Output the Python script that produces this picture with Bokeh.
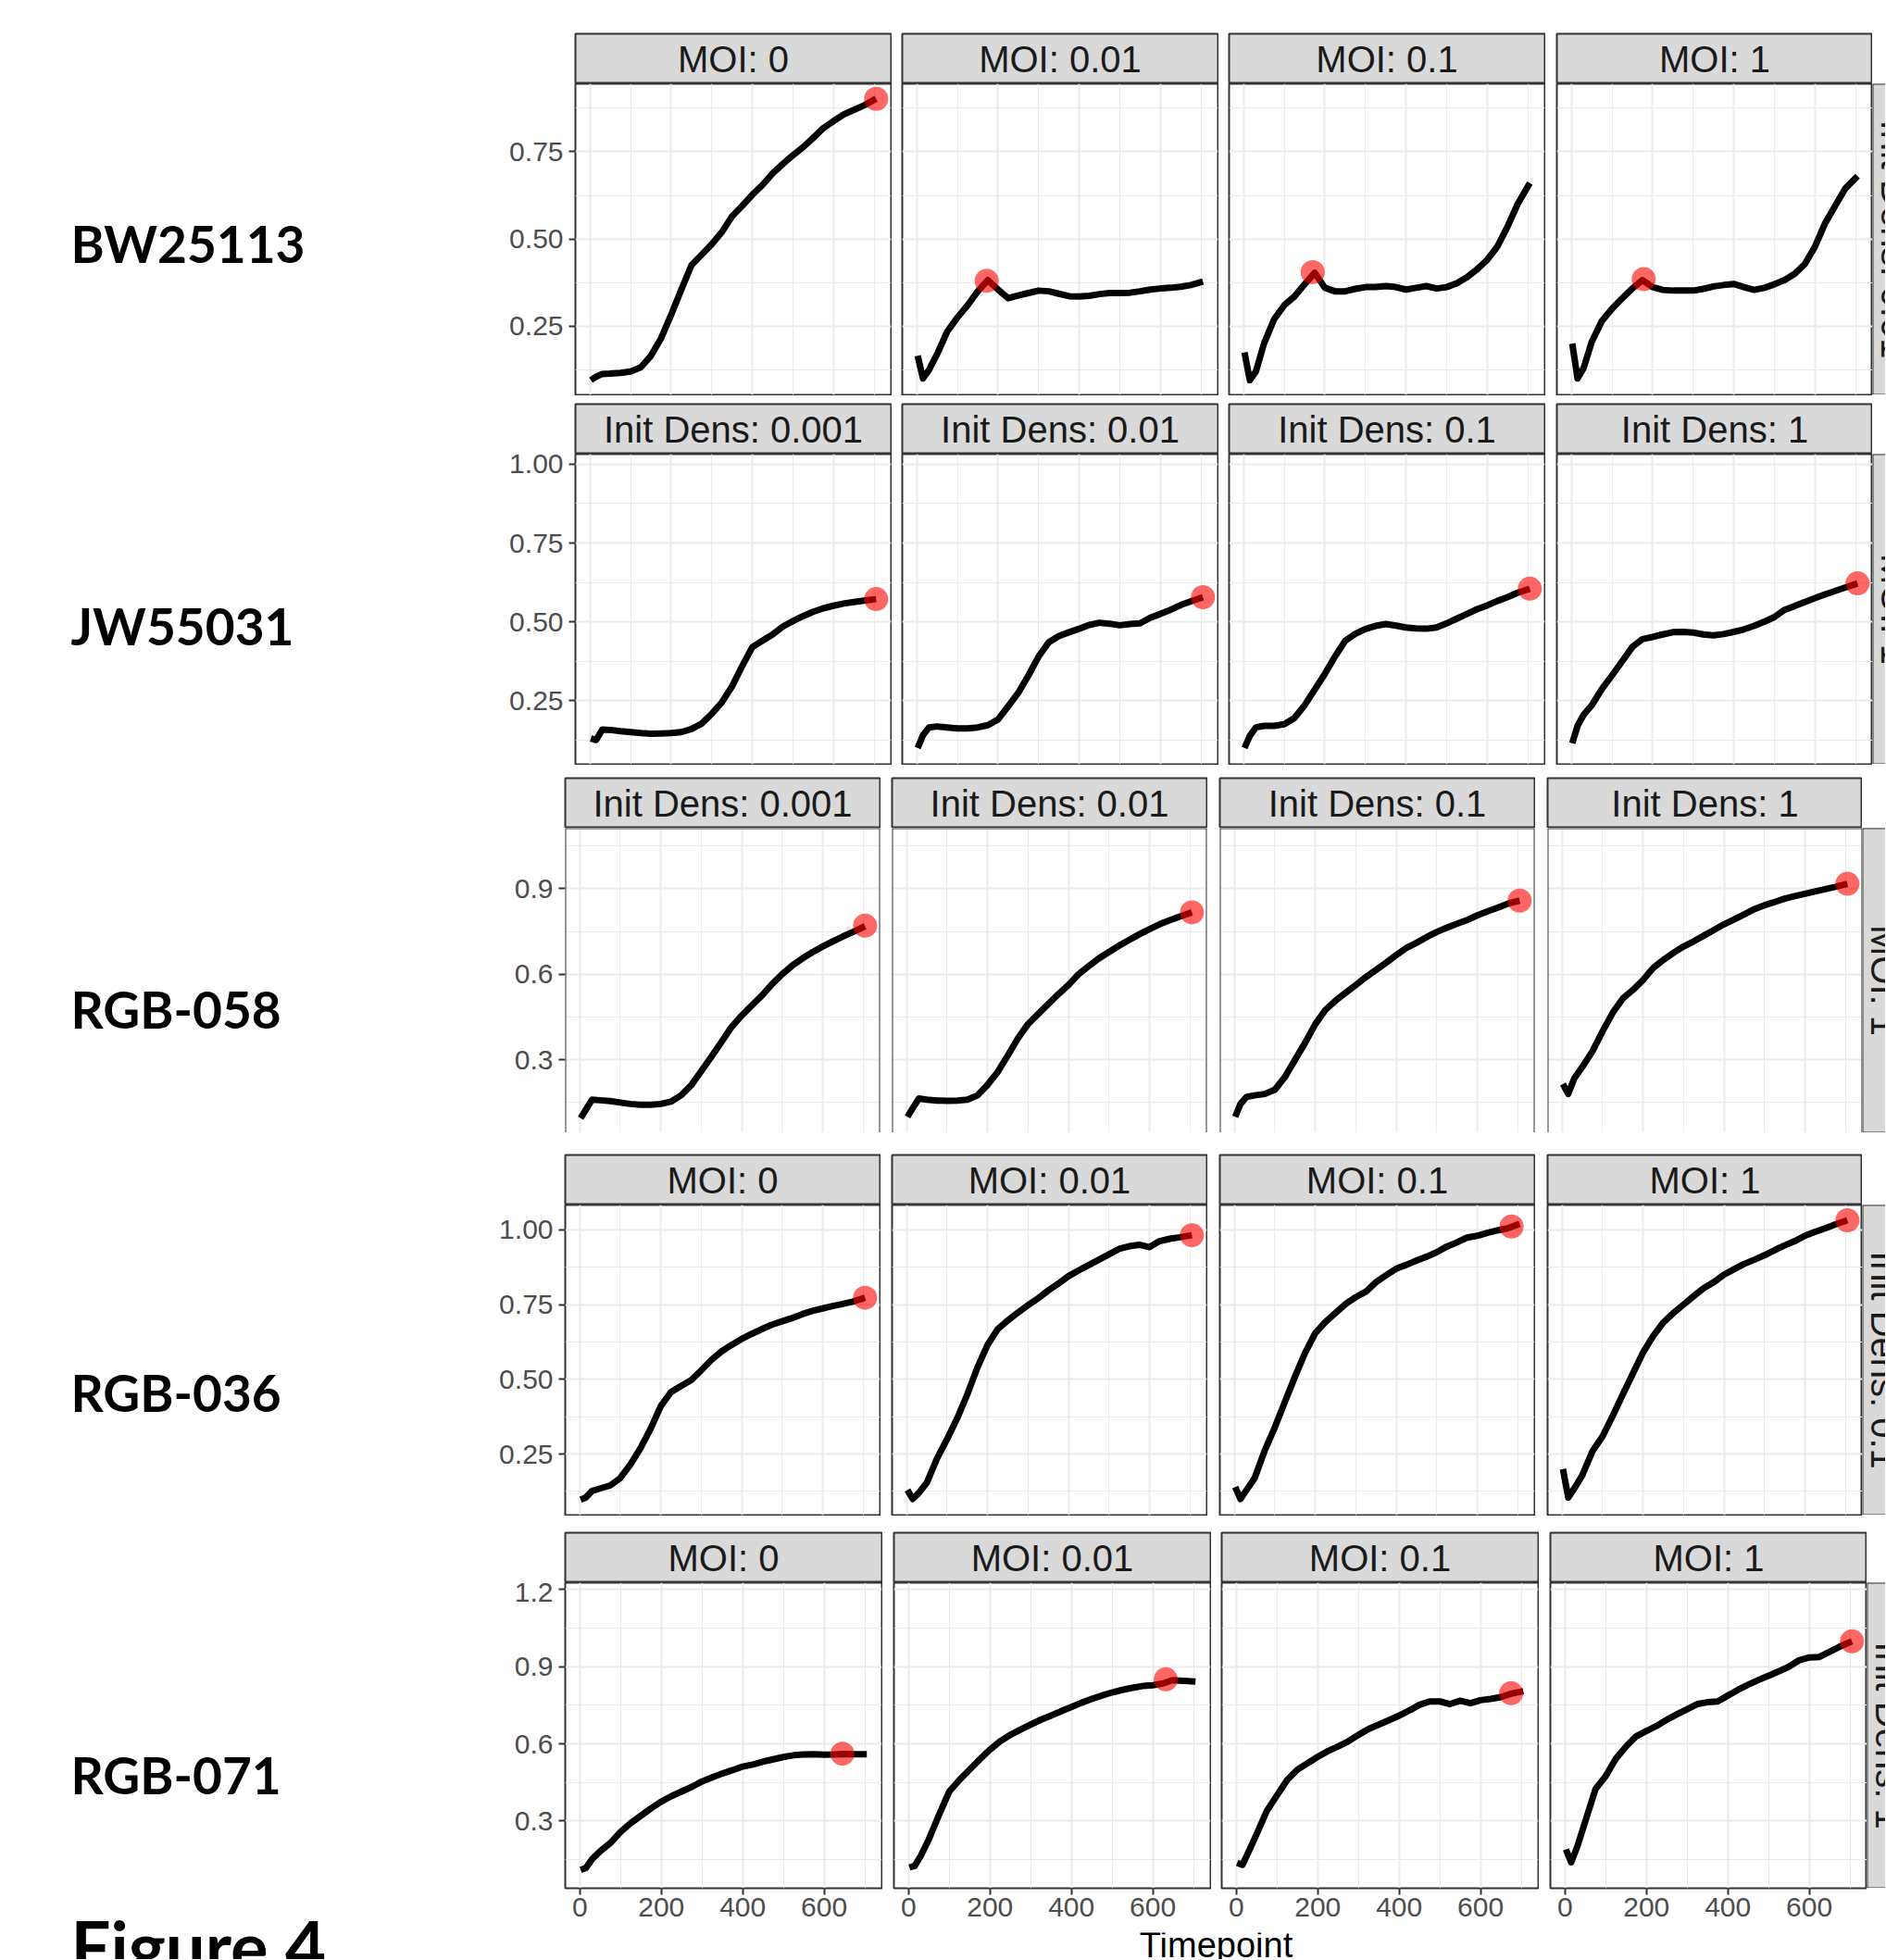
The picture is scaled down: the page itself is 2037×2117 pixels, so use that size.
import math
from bokeh.plotting import figure
from bokeh.models import Range1d, FixedTicker, NumeralTickFormatter, Label, Span, Spacer, Grid
from bokeh.layouts import row, column
from bokeh.embed import file_html
from bokeh.resources import INLINE

# ---------------- data ----------------
TIME = [2, 15, 30, 50, 75, 100, 125, 150, 175, 200, 225, 250, 275, 300, 325,
        350, 375, 400, 425, 450, 475, 500, 525, 550, 575, 600, 625, 650, 675, 705]

STRAINS = ["BW25113", "JW55031", "RGB-058", "RGB-036", "RGB-071"]
MOI_LABELS = ["MOI: 0", "MOI: 0.01", "MOI: 0.1", "MOI: 1"]
DENS_LABELS = ["Init Dens: 0.001", "Init Dens: 0.01", "Init Dens: 0.1", "Init Dens: 1"]
RIGHT_LABELS = ["Init Dens: 0.01", "MOI: 1", "MOI: 1", "Init Dens: 0.1", "Init Dens: 1"]

# BW25113 (facets by MOI)
bw_moi_0 = [0.095, 0.105, 0.113, 0.114, 0.116, 0.12, 0.132, 0.165, 0.215, 0.283, 0.355, 0.425, 0.455, 0.485, 0.52,
            0.565, 0.595, 0.627, 0.655, 0.688, 0.715, 0.74, 0.763, 0.79, 0.818, 0.838, 0.857, 0.87, 0.883, 0.902]
bw_moi_001 = [0.165, 0.10, 0.125, 0.17, 0.235, 0.275, 0.31, 0.35, 0.382, 0.355, 0.33, 0.338, 0.345, 0.352, 0.35,
              0.343, 0.336, 0.335, 0.337, 0.342, 0.345, 0.345, 0.346, 0.35, 0.355, 0.358, 0.36, 0.363, 0.368, 0.378]
bw_moi_01 = [0.175, 0.095, 0.12, 0.2, 0.27, 0.31, 0.335, 0.37, 0.403, 0.36, 0.35, 0.35, 0.357, 0.362, 0.362,
             0.365, 0.362, 0.355, 0.36, 0.365, 0.358, 0.362, 0.373, 0.39, 0.413, 0.44, 0.478, 0.535, 0.6, 0.66]
bw_moi_1 = [0.2, 0.1, 0.13, 0.205, 0.265, 0.3, 0.33, 0.358, 0.382, 0.362, 0.354, 0.352, 0.352, 0.352, 0.357,
            0.364, 0.368, 0.371, 0.362, 0.354, 0.36, 0.37, 0.382, 0.4, 0.428, 0.478, 0.545, 0.595, 0.645, 0.68]
bw_dot_t = [705, 172, 170, 178]
bw_dot_y = [0.902, 0.38, 0.405, 0.385]

# JW55031 (facets by initial density)
jw_id_0001 = [0.13, 0.125, 0.158, 0.157, 0.153, 0.15, 0.147, 0.145, 0.146, 0.147, 0.15, 0.16, 0.177, 0.208, 0.245,
              0.295, 0.36, 0.42, 0.44, 0.46, 0.485, 0.502, 0.518, 0.532, 0.543, 0.551, 0.558, 0.563, 0.567, 0.572]
jw_id_001 = [0.1, 0.14, 0.165, 0.168, 0.165, 0.162, 0.162, 0.165, 0.172, 0.19, 0.232, 0.275, 0.33, 0.39, 0.435,
             0.455, 0.467, 0.478, 0.49, 0.497, 0.494, 0.489, 0.493, 0.495, 0.513, 0.525, 0.538, 0.553, 0.565, 0.578]
jw_id_01 = [0.1, 0.138, 0.165, 0.17, 0.17, 0.175, 0.195, 0.235, 0.285, 0.335, 0.39, 0.44, 0.462, 0.477, 0.487,
            0.493, 0.488, 0.482, 0.479, 0.478, 0.482, 0.495, 0.51, 0.525, 0.54, 0.552, 0.566, 0.578, 0.592, 0.605]
jw_id_1 = [0.115, 0.17, 0.205, 0.235, 0.287, 0.33, 0.375, 0.42, 0.445, 0.452, 0.46, 0.467, 0.468, 0.466, 0.46,
           0.457, 0.461, 0.468, 0.476, 0.487, 0.5, 0.515, 0.538, 0.55, 0.563, 0.575, 0.587, 0.598, 0.609, 0.622]
jw_dot_t = [705, 705, 705, 705]
jw_dot_y = [0.572, 0.578, 0.605, 0.622]

# RGB-058 (facets by initial density)
r058_id_0001 = [0.095, 0.125, 0.16, 0.158, 0.155, 0.15, 0.145, 0.142, 0.142, 0.145, 0.153, 0.175, 0.21, 0.26, 0.31,
                0.362, 0.415, 0.455, 0.49, 0.525, 0.565, 0.6, 0.63, 0.655, 0.677, 0.697, 0.715, 0.732, 0.748, 0.768]
r058_id_001 = [0.1, 0.13, 0.164, 0.16, 0.157, 0.156, 0.157, 0.16, 0.175, 0.212, 0.257, 0.315, 0.375, 0.425, 0.46,
               0.495, 0.53, 0.562, 0.6, 0.628, 0.655, 0.678, 0.7, 0.72, 0.74, 0.758, 0.775, 0.789, 0.802, 0.817]
r058_id_01 = [0.1, 0.145, 0.17, 0.175, 0.18, 0.195, 0.24, 0.3, 0.36, 0.425, 0.475, 0.507, 0.535, 0.562, 0.59,
              0.615, 0.64, 0.667, 0.692, 0.71, 0.73, 0.748, 0.763, 0.777, 0.79, 0.806, 0.82, 0.833, 0.847, 0.858]
r058_id_1 = [0.215, 0.18, 0.235, 0.275, 0.33, 0.4, 0.465, 0.515, 0.545, 0.58, 0.622, 0.65, 0.675, 0.697, 0.715,
             0.735, 0.755, 0.775, 0.792, 0.81, 0.828, 0.842, 0.853, 0.865, 0.874, 0.882, 0.89, 0.898, 0.906, 0.917]
r058_dot_t = [705, 705, 705, 705]
r058_dot_y = [0.77, 0.817, 0.858, 0.917]

# RGB-036 (facets by MOI)
r036_moi_0 = [0.098, 0.105, 0.127, 0.135, 0.145, 0.17, 0.215, 0.27, 0.335, 0.41, 0.457, 0.478, 0.497, 0.53, 0.565,
              0.593, 0.615, 0.635, 0.652, 0.668, 0.683, 0.694, 0.705, 0.718, 0.729, 0.737, 0.745, 0.752, 0.76, 0.773]
r036_moi_001 = [0.13, 0.1, 0.12, 0.155, 0.235, 0.3, 0.37, 0.45, 0.54, 0.615, 0.668, 0.697, 0.723, 0.748, 0.771,
                0.797, 0.82, 0.845, 0.864, 0.882, 0.9, 0.918, 0.936, 0.945, 0.95, 0.942, 0.962, 0.97, 0.975, 0.982]
r036_moi_01 = [0.14, 0.1, 0.13, 0.17, 0.262, 0.34, 0.425, 0.51, 0.59, 0.655, 0.692, 0.722, 0.752, 0.775, 0.793,
               0.825, 0.848, 0.87, 0.883, 0.897, 0.91, 0.925, 0.944, 0.958, 0.974, 0.98, 0.99, 0.998, 1.005, 1.02]
r036_moi_1 = [0.2, 0.105, 0.135, 0.18, 0.26, 0.31, 0.378, 0.45, 0.52, 0.59, 0.645, 0.69, 0.722, 0.75, 0.778,
              0.805, 0.825, 0.85, 0.868, 0.886, 0.9, 0.915, 0.932, 0.948, 0.962, 0.98, 0.993, 1.005, 1.018, 1.032]
r036_dot_t = [705, 705, 685, 705]
r036_dot_y = [0.773, 0.982, 1.011, 1.032]

# RGB-071 (facets by MOI)
r071_moi_0 = [0.11, 0.118, 0.152, 0.183, 0.215, 0.258, 0.292, 0.321, 0.35, 0.376, 0.397, 0.415, 0.433, 0.454, 0.47,
              0.485, 0.498, 0.512, 0.52, 0.531, 0.54, 0.549, 0.556, 0.559, 0.56, 0.558, 0.559, 0.561, 0.56, 0.56]
r071_moi_001 = [0.12, 0.126, 0.165, 0.23, 0.325, 0.415, 0.46, 0.5, 0.54, 0.578, 0.61, 0.635, 0.656, 0.675, 0.694,
                0.71, 0.727, 0.743, 0.76, 0.775, 0.788, 0.8, 0.81, 0.818, 0.825, 0.828, 0.835, 0.848, 0.845, 0.842]
r071_moi_01 = [0.138, 0.13, 0.18, 0.25, 0.34, 0.4, 0.46, 0.5, 0.525, 0.55, 0.572, 0.59, 0.61, 0.635, 0.658,
               0.675, 0.692, 0.71, 0.73, 0.752, 0.765, 0.765, 0.755, 0.768, 0.758, 0.77, 0.775, 0.782, 0.795, 0.805]
r071_moi_1 = [0.19, 0.14, 0.2, 0.3, 0.425, 0.475, 0.543, 0.59, 0.63, 0.65, 0.67, 0.694, 0.715, 0.735, 0.755,
              0.762, 0.765, 0.788, 0.81, 0.83, 0.848, 0.865, 0.882, 0.9, 0.925, 0.936, 0.938, 0.958, 0.978, 0.999]
r071_dot_t = [645, 632, 675, 705]
r071_dot_y = [0.562, 0.851, 0.797, 0.999]

X_TICKS = [0, 200, 400, 600]
X_MINOR = [100, 300, 500, 700]

# ---------------- styling / layout constants ----------------
FONT = "Liberation Sans"
STRIP_FILL = "#D9D9D9"
BORDER = "#333333"
GRID = "#EBEBEB"
X_START, X_END = -36, 742
LEFT_W = 528
TOTAL_W = 2036
TOTAL_H = 2116

ROWS = [
    dict(series=[bw_moi_0, bw_moi_001, bw_moi_01, bw_moi_1], dt=bw_dot_t, dy=bw_dot_y, strips=MOI_LABELS,
         yr=(0.053, 0.945), yt=[0.25, 0.5, 0.75], ym=[0.125, 0.375, 0.625, 0.875], fmt="0.00",
         lefts=[621, 974, 1327, 1681], fw=341, fh=336, bb=1, border=True, gap_before=35),
    dict(series=[jw_id_0001, jw_id_001, jw_id_01, jw_id_1], dt=jw_dot_t, dy=jw_dot_y, strips=DENS_LABELS,
         yr=(0.048, 1.032), yt=[0.25, 0.5, 0.75, 1.0], ym=[0.125, 0.375, 0.625, 0.875], fmt="0.00",
         lefts=[621, 974, 1327, 1681], fw=341, fh=335, bb=1, border=True, gap_before=8),
    dict(series=[r058_id_0001, r058_id_001, r058_id_01, r058_id_1], dt=r058_dot_t, dy=r058_dot_y, strips=DENS_LABELS,
         yr=(0.044, 1.112), yt=[0.3, 0.6, 0.9], ym=[0.15, 0.45, 0.75, 1.05], fmt="0.0",
         lefts=[610, 963, 1317, 1671], fw=340, fh=329, bb=0, border=False, gap_before=13),
    dict(series=[r036_moi_0, r036_moi_001, r036_moi_01, r036_moi_1], dt=r036_dot_t, dy=r036_dot_y, strips=MOI_LABELS,
         yr=(0.046, 1.083), yt=[0.25, 0.5, 0.75, 1.0], ym=[0.125, 0.375, 0.625, 0.875], fmt="0.00",
         lefts=[610, 963, 1317, 1671], fw=340, fh=335, bb=1, border=True, gap_before=23),
    dict(series=[r071_moi_0, r071_moi_001, r071_moi_01, r071_moi_1], dt=r071_dot_t, dy=r071_dot_y, strips=MOI_LABELS,
         yr=(0.039, 1.2265), yt=[0.3, 0.6, 0.9, 1.2], ym=[0.15, 0.45, 0.75, 1.05], fmt="0.0",
         lefts=[610, 965, 1319, 1674], fw=342, fh=330, bb=48, border=True, gap_before=17),
]


def base_fig(w, h, lb, rb, tb, bb, xr, yr, xaxis=False, yaxis=False):
    p = figure(width=w, height=h, x_range=xr, y_range=yr,
               min_border_left=lb, min_border_right=rb, min_border_top=tb, min_border_bottom=bb,
               x_axis_location="below" if xaxis else None,
               y_axis_location="left" if yaxis else None,
               toolbar_location=None, output_backend="svg")
    p.background_fill_color = "white"
    p.border_fill_color = "white"
    p.outline_line_color = None
    return p


def grids(p, dim):
    gs = [g for g in p.center if isinstance(g, Grid) and g.dimension == dim]
    if not gs:
        g = Grid(dimension=dim)
        p.add_layout(g, "center")
        gs = [g]
    return gs


def hide_grids(p):
    for d in (0, 1):
        for g in grids(p, d):
            g.visible = False


def style_axis(ax, standoff):
    ax.axis_line_color = None
    ax.major_tick_line_color = BORDER
    ax.major_tick_line_width = 2
    ax.major_tick_out = 7
    ax.major_tick_in = 0
    ax.minor_tick_line_color = None
    ax.major_label_text_font = FONT
    ax.major_label_text_font_size = "30px"
    ax.major_label_text_color = "#4D4D4D"
    ax.major_label_standoff = standoff


def strip_fig(text, fw, lb, rb):
    p = base_fig(lb + fw + rb, 55, lb, rb, 1, 0, Range1d(0, fw), Range1d(0, 54))
    hide_grids(p)
    p.background_fill_color = STRIP_FILL
    p.outline_line_color = BORDER
    p.outline_line_width = 2
    p.add_layout(Label(x=fw / 2, y=27, text=text, text_align="center", text_baseline="middle",
                       text_font=FONT, text_font_size="40px", text_color="#1A1A1A"))
    return p


def panel_fig(spec, c, lb, rb):
    fw, fh, bb = spec["fw"], spec["fh"], spec["bb"]
    show_y = c == 0
    show_x = spec["bb"] > 1
    yr = spec["yr"]
    p = base_fig(lb + fw + rb, fh + bb, lb, rb, 0, bb, Range1d(X_START, X_END), Range1d(*yr),
                 xaxis=show_x, yaxis=show_y)
    for g in grids(p, 0):
        g.ticker = FixedTicker(ticks=X_TICKS, minor_ticks=X_MINOR)
    for g in grids(p, 1):
        g.ticker = FixedTicker(ticks=spec["yt"], minor_ticks=spec["ym"])
    for d in (0, 1):
        for g in grids(p, d):
            g.grid_line_color = GRID
            g.grid_line_width = 2
            g.minor_grid_line_color = GRID
            g.minor_grid_line_width = 1
    if show_y:
        ax = p.yaxis[0]
        ax.ticker = FixedTicker(ticks=spec["yt"], minor_ticks=[])
        ax.formatter = NumeralTickFormatter(format=spec["fmt"])
        style_axis(ax, 6)
    if show_x:
        ax = p.xaxis[0]
        ax.ticker = FixedTicker(ticks=X_TICKS, minor_ticks=[])
        style_axis(ax, 3)
    if spec["border"]:
        p.outline_line_color = BORDER
        p.outline_line_width = 2
    else:
        p.add_layout(Span(location=X_START, dimension="height", line_color=BORDER, line_width=2))
        p.add_layout(Span(location=X_END, dimension="height", line_color=BORDER, line_width=2))
        p.add_layout(Span(location=yr[1], dimension="width", line_color=BORDER, line_width=2))
    p.line(TIME, spec["series"][c], line_color="black", line_width=7, line_join="round")
    p.scatter([spec["dt"][c]], [spec["dy"][c]], size=26, fill_color="red", fill_alpha=0.6, line_color=None)
    return p


def right_strip(text, w, fh):
    p = base_fig(w, fh, 0, 0, 0, 0, Range1d(0, w), Range1d(0, fh))
    hide_grids(p)
    p.background_fill_color = STRIP_FILL
    p.add_layout(Span(location=0, dimension="height", line_color=BORDER, line_width=2))
    p.add_layout(Span(location=0, dimension="width", line_color=BORDER, line_width=2))
    p.add_layout(Span(location=fh, dimension="width", line_color=BORDER, line_width=2))
    p.add_layout(Label(x=23, y=fh / 2, text=text, angle=-math.pi / 2, text_align="center",
                       text_baseline="middle", text_font=FONT, text_font_size="40px",
                       text_color="#1A1A1A"))
    return p


plot_items = []
for r, spec in enumerate(ROWS):
    plot_items.append(Spacer(width=1, height=spec["gap_before"]))
    cols = []
    prev_end = LEFT_W
    for c in range(4):
        left = spec["lefts"][c]
        lb = left - prev_end
        rb = 1 if c < 3 else 0
        cols.append(column(strip_fig(spec["strips"][c], spec["fw"], lb, rb), panel_fig(spec, c, lb, rb)))
        prev_end = left + spec["fw"] + rb
    rs_w = TOTAL_W - prev_end
    cols.append(column(Spacer(width=rs_w, height=55), right_strip(RIGHT_LABELS[r], rs_w, spec["fh"])))
    plot_items.append(row(cols))

used_h = sum(s["gap_before"] + 55 + s["fh"] + s["bb"] for s in ROWS)
title_h = TOTAL_H - used_h
tfig = base_fig(TOTAL_W - LEFT_W, title_h, 0, 0, 0, 0, Range1d(0, TOTAL_W - LEFT_W), Range1d(title_h, 0))
hide_grids(tfig)
tfig.add_layout(Label(x=1313 - LEFT_W, y=2100 - used_h, text="Timepoint", text_align="center",
                      text_baseline="middle", text_font=FONT, text_font_size="38px", text_color="black"))
plot_items.append(tfig)

# left strain labels
lfig = base_fig(LEFT_W, TOTAL_H, 0, 0, 0, 0, Range1d(0, LEFT_W), Range1d(TOTAL_H, 0))
hide_grids(lfig)
for name, mid in zip(STRAINS, [262, 675, 1089, 1503, 1916]):
    lfig.add_layout(Label(x=76, y=mid, text=name, text_font="Lato", text_font_style="bold",
                          text_font_size="55px", text_color="black", text_baseline="middle"))
lfig.add_layout(Label(x=76, y=2101, text="Figure 4", text_font="Lato", text_font_style="bold",
                      text_font_size="76px", text_color="black", text_baseline="middle"))

layout = row(lfig, column(plot_items))

open("out.html", "w").write(file_html(layout, INLINE))
